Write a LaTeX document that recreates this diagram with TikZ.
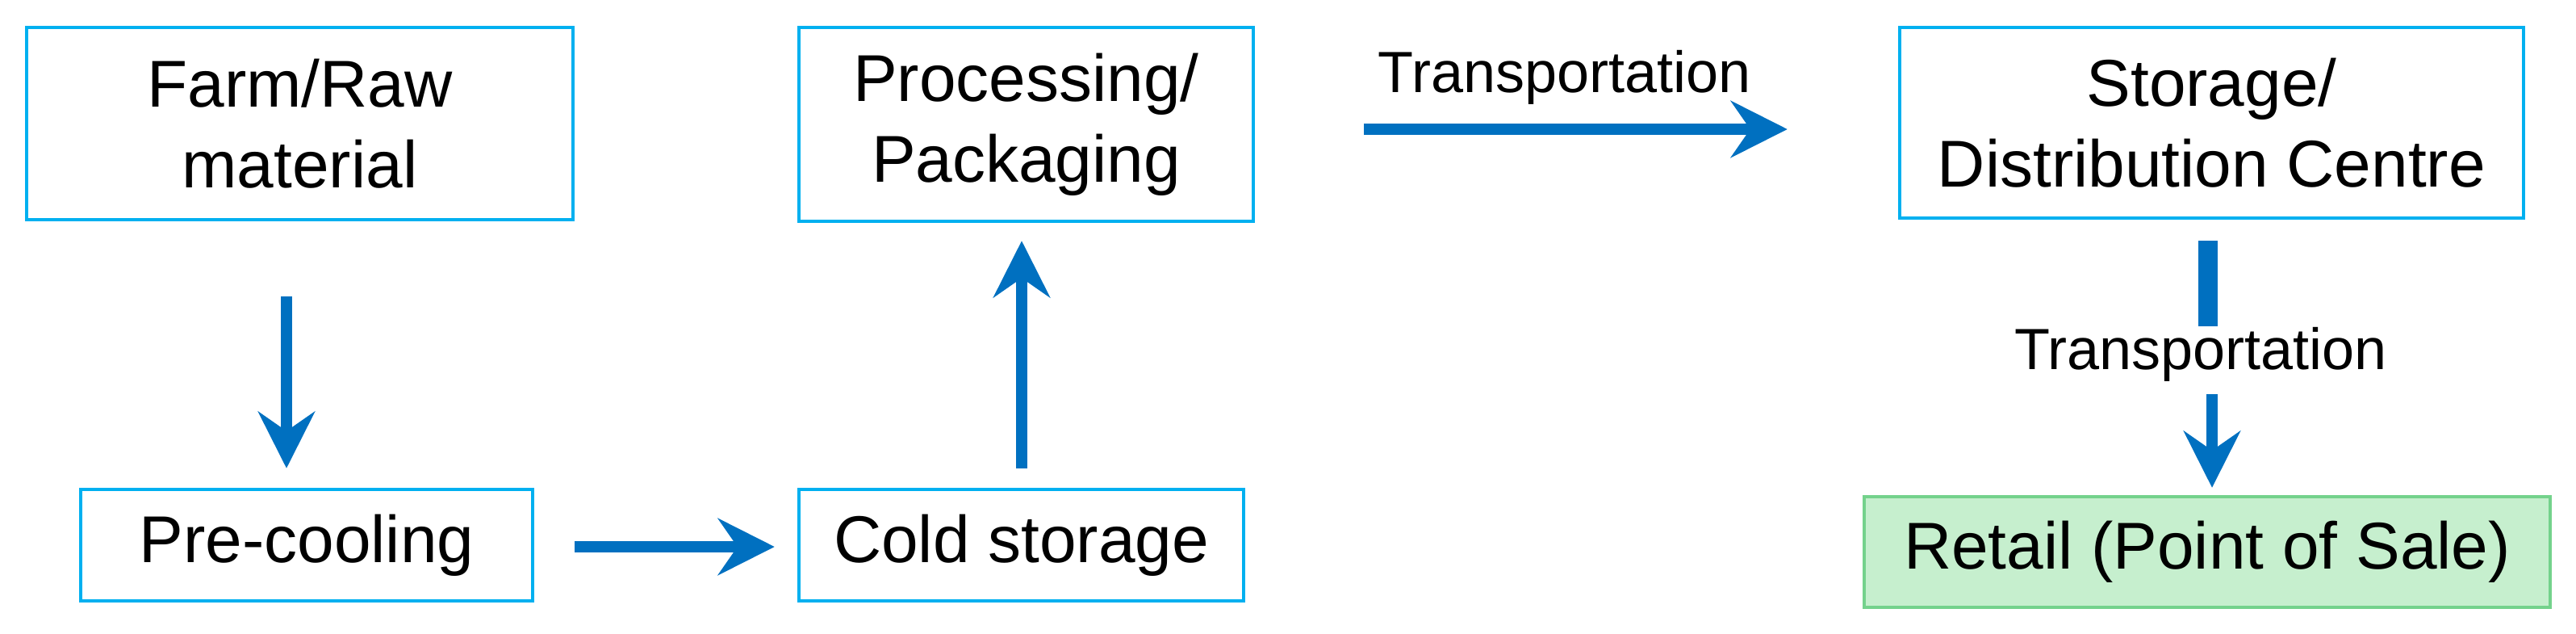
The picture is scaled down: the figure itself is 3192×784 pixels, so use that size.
\documentclass[tikz,border=0pt]{standalone}
\usepackage{fontspec}
\setmainfont{Liberation Sans}
\usetikzlibrary{arrows.meta}
\definecolor{boxblue}{HTML}{00B0F0}
\definecolor{arrowblue}{HTML}{0070C0}
\definecolor{retailfill}{HTML}{C6EFCE}
\definecolor{retaildraw}{HTML}{74D28C}
\tikzset{
  box/.style={draw=boxblue, line width=1.1pt, inner sep=0pt, align=center,
    font=\fontsize{20.5pt}{25pt}\selectfont},
  retailbox/.style={box, draw=retaildraw, fill=retailfill},
  lbl/.style={inner sep=0pt, font=\fontsize{18pt}{22pt}\selectfont},
  arr/.style={draw=arrowblue, line width=3.6pt,
    -{Stealth[length=17.5pt, width=17.5pt, inset=6pt]}},
  bar/.style={draw=arrowblue, line width=6pt}
}
\begin{document}
\begin{tikzpicture}[x=0.25pt, y=-0.25pt]
\useasboundingbox (0,0) rectangle (3192,784);
\node[box, minimum width=169.25pt, minimum height=59.5pt] (farm) at (371.5,153) {Farm/Raw\\material};
\node[box, minimum width=140.75pt, minimum height=60pt] (proc) at (1271.5,154) {Processing/\\Packaging};
\node[box, minimum width=193.25pt, minimum height=59pt] (stor) at (2740.5,152) {Storage/\\Distribution Centre};
\node[box, minimum width=140pt, minimum height=34.5pt] (pre) at (380,675) {Pre-cooling};
\node[box, minimum width=137.75pt, minimum height=34.5pt] (cold) at (1265.5,675) {Cold storage};
\node[retailbox, minimum width=212.5pt, minimum height=34.25pt] (retail) at (2735,683.5) {Retail (Point of Sale)};
\node[lbl, anchor=base] (t2) at (2727,457) {Transportation};

\draw[arr, shorten <=23.25pt, shorten >=6pt] ([xshift=-4.125pt]farm.south) -- ([xshift=-4.125pt]farm.south |- pre.north);
\draw[arr, shorten <=12.5pt, shorten >=7pt] ([yshift=-0.5pt]pre.east) -- ([yshift=-0.5pt]pre.east -| cold.west);
\draw[arr, shorten <=6pt, shorten >=5.5pt] ([xshift=0.125pt]cold.north) -- ([xshift=0.125pt]cold.north |- proc.south);
\draw[arr, shorten <=33.75pt, shorten >=34.25pt] ([yshift=-1.5pt]proc.east) -- ([yshift=-1.5pt]proc.east -| stor.west)
  node[lbl, midway, anchor=base, xshift=-3.75pt, yshift=11.5pt] (t1) {Transportation};
\draw[bar, shorten <=6.5pt] ([xshift=-1.125pt]stor.south) -- ([xshift=-1.125pt]stor.south |- t2.north);
\draw[arr, shorten <=3.75pt, shorten >=2.25pt] ([xshift=1.5pt]retail.north |- t2.south) -- ([xshift=1.5pt]retail.north);
\end{tikzpicture}
\end{document}
